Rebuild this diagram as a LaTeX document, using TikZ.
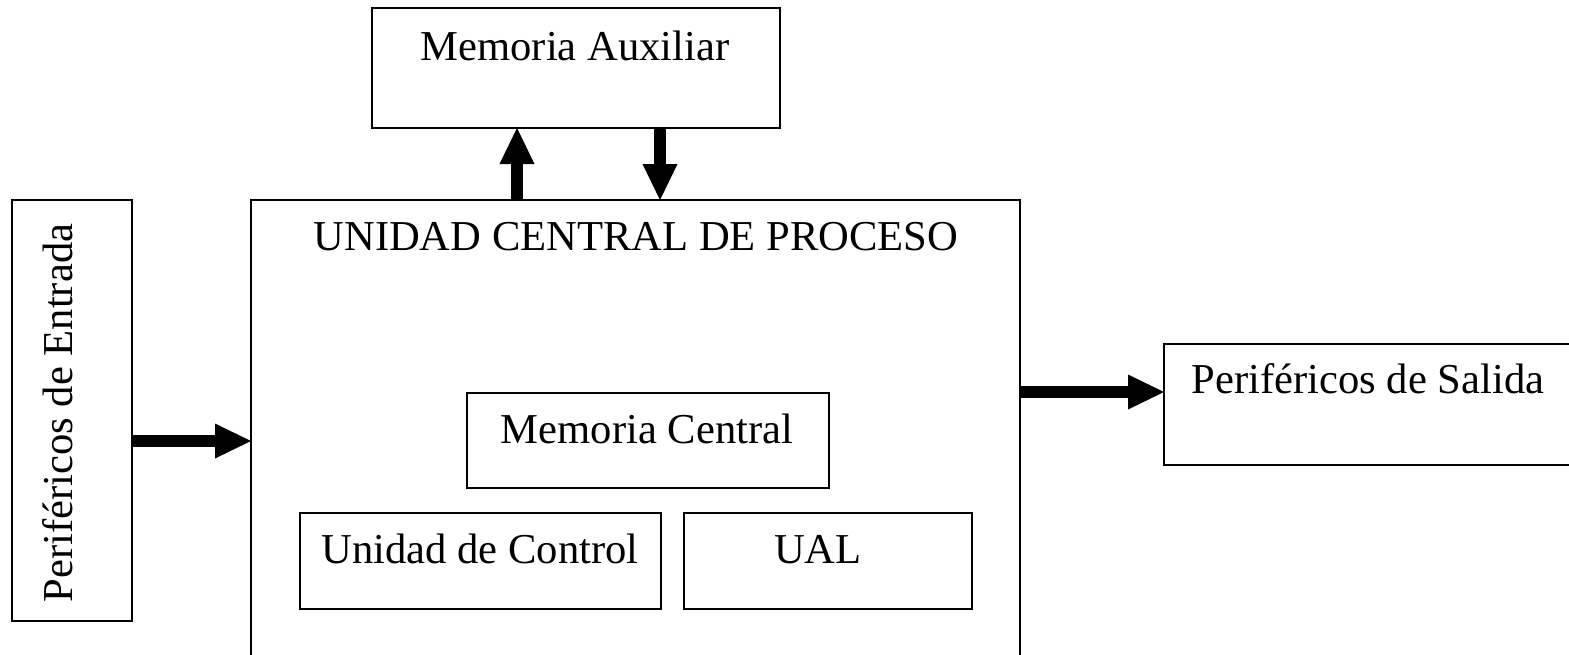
\documentclass[tikz,border=0pt]{standalone}
\usepackage{fontspec}
\setmainfont{Liberation Serif}
\usetikzlibrary{arrows.meta,fit}
\begin{document}
\begin{tikzpicture}[x=0.5pt,y=-0.5pt,
  box/.style={draw, line width=1pt, rectangle, inner sep=0pt, outer sep=0pt},
  lbl/.style={inner sep=0pt, anchor=base, font=\fontsize{21.3pt}{25pt}\selectfont},
  bigarrow/.style={line width=6pt, -{Triangle[length=18pt,width=17.5pt,line width=0pt]}}]
\useasboundingbox (0,0) rectangle (1569,654);
\clip (0,0) rectangle (1569,654);
% boxes
\node[box, fit={(372,8) (780,128)}] (aux) {};
\node[box, fit={(251,200) (1020,700)}] (cpu) {};
\node[box, fit={(12,200) (132,621)}] (ent) {};
\node[box, fit={(1164,344) (1620,465)}] (sal) {};
\node[box, fit={(467,393) (829,488)}] (mc) {};
\node[box, fit={(300,513) (661,609)}] (uc) {};
\node[box, fit={(684,513) (972,609)}] (ual) {};
% labels
\node[lbl] (auxt) at (575,60) {Memoria Auxiliar};
\node[lbl] (cput) at (636,250) {UNIDAD CENTRAL DE PROCESO};
\node[lbl] (mct) at (647,443) {Memoria Central};
\node[lbl] (uct) at (480,563) {Unidad de Control};
\node[lbl] (ualt) at (818,563) {UAL};
\node[lbl] (salt) at (1368,393) {Periféricos de Salida};
\node[lbl, rotate=90] (entt) at (72,413) {Periféricos de Entrada};
% arrows
\coordinate (ux) at (517,0);
\coordinate (dx) at (660,0);
\coordinate (iy) at (0,441);
\coordinate (oy) at (0,392);
\draw[bigarrow] (cpu.north -| ux) -- (aux.south -| ux);
\draw[bigarrow] (aux.south -| dx) -- (cpu.north -| dx);
\draw[bigarrow] (ent.east |- iy) -- (cpu.west |- iy);
\draw[bigarrow] (cpu.east |- oy) -- (sal.west |- oy);
\end{tikzpicture}
\end{document}
